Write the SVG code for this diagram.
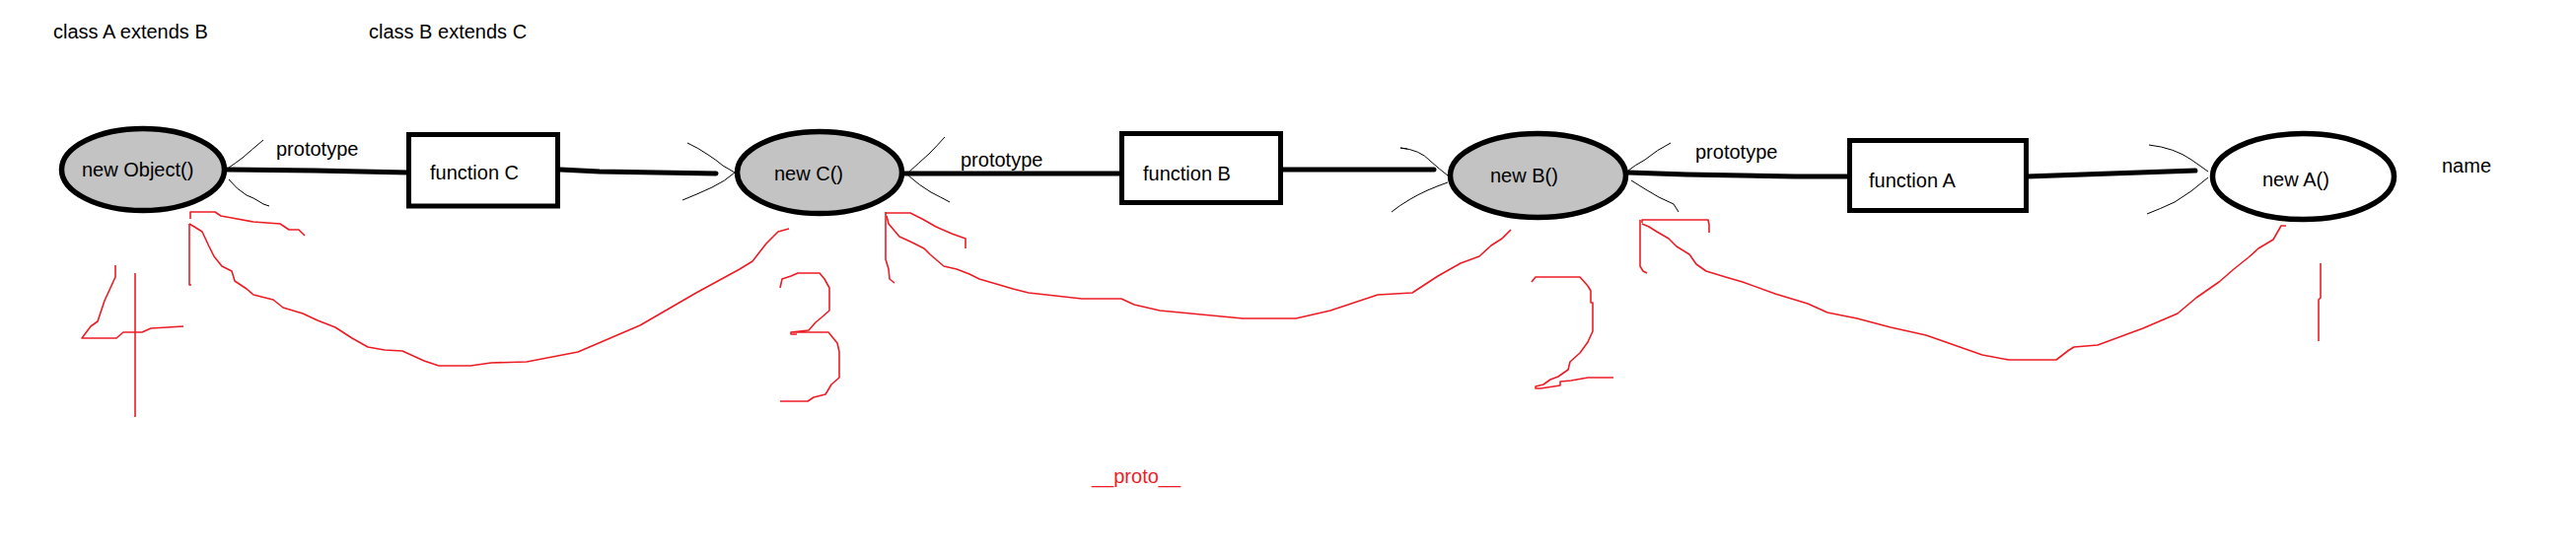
<svg xmlns="http://www.w3.org/2000/svg" width="2612" height="566" viewBox="0 0 2612 566">
<style>
text{font-family:"Liberation Sans",Arial,sans-serif;font-size:20px;fill:#000}
.obj{fill:#c3c3c3;stroke:#000;stroke-width:5.5}
.objw{fill:#fff;stroke:#000;stroke-width:5.5}
.fn{fill:#fff;stroke:#000;stroke-width:5}
.thick{fill:none;stroke:#000;stroke-width:5;stroke-linecap:round;stroke-linejoin:round}
.thin{fill:none;stroke:#000;stroke-width:1}
.red{fill:none;stroke:#ed1c24;stroke-width:1.6;stroke-linejoin:round}
.redt{fill:#ed1c24}
</style>
<rect width="2612" height="566" fill="#fff"/>
<g id="titles">
<text x="54" y="39">class A extends B</text>
<text x="374" y="39">class B extends C</text>
</g>
<g id="connectors">
<path class="thick" d="M230,172 L319,173 L414,175"/>
<path class="thick" d="M568,172 L608,174 L726,176"/>
<path class="thick" d="M917,176 L1136,176"/>
<path class="thick" d="M1301,172 L1454,172"/>
<path class="thick" d="M1651,175 L1710,177 L1820,179 L1875,179"/>
<path class="thick" d="M2055,179 L2226,173"/>
<path class="thin" d="M267,142 Q255,152 246,160 Q238,166 232,170"/>
<path class="thin" d="M232,182 Q240,192 250,198 L257,201 Q264,205 267,207 L273,209"/>
<path class="thin" d="M697,145 Q708,150 718,157 Q726,162 733,168 L745,175 Q735,184 722,190 Q707,197 692,203"/>
<path class="thin" d="M958,139 Q950,148 942,156 Q932,165 921,175"/>
<path class="thin" d="M921,178 Q932,188 944,195 Q954,200 963,205"/>
<path class="thin" d="M1427,151 L1420,150 Q1440,152 1450,163 Q1460,172 1468,178"/>
<path class="thin" d="M1468,185 Q1445,193 1430,202 Q1418,209 1411,215"/>
<path class="thin" d="M1694,145 Q1680,152 1668,162 Q1657,168 1651,173"/>
<path class="thin" d="M1654,183 Q1668,192 1682,200 L1697,207 L1702,215"/>
<path class="thin" d="M2179,147 Q2205,150 2222,162 L2239,174"/>
<path class="thin" d="M2239,180 Q2222,195 2205,205 Q2190,212 2177,217"/>
<text x="280" y="158">prototype</text>
<text x="974" y="169">prototype</text>
<text x="1719" y="161">prototype</text>
</g>
<g id="node-object">
<ellipse class="obj" cx="145" cy="172" rx="82.5" ry="41.5"/>
<text x="83" y="179">new Object()</text>
</g>
<g id="node-function-c">
<rect class="fn" x="414.5" y="136.5" width="151" height="72.5"/>
<text x="436" y="182">function C</text>
</g>
<g id="node-new-c">
<ellipse class="obj" cx="831" cy="175" rx="83.5" ry="41.5"/>
<text x="785" y="183">new C()</text>
</g>
<g id="node-function-b">
<rect class="fn" x="1137.5" y="135.5" width="161" height="70"/>
<text x="1159" y="183">function B</text>
</g>
<g id="node-new-b">
<ellipse class="obj" cx="1559.5" cy="178" rx="89" ry="42.5"/>
<text x="1511" y="185">new B()</text>
</g>
<g id="node-function-a">
<rect class="fn" x="1875.5" y="142.5" width="179" height="71"/>
<text x="1895" y="190">function A</text>
</g>
<g id="node-new-a">
<ellipse class="objw" cx="2335.5" cy="179" rx="92" ry="43.5"/>
<text x="2294" y="189">new A()</text>
</g>
<g id="node-name">
<text x="2476" y="175">name</text>
</g>
<g id="proto-annotations">
<path class="red" d="M800,232 L789,235 L777,247 L763,265 L750,273 L706,297 L649,330 L586,357 L534,367 L498,368 L477,371 L445,371 L430,366 L408,356 L390,355 L373,352 L357,343 L340,332 L322,325 L307,318 L287,312 L277,304 L257,299 L250,293 L238,285 L235,275 L225,270 L217,260 L212,250 L205,235 L197,230 L192,227"/>
<path class="red" d="M194,289 L192,289 L192,227"/>
<path class="red" d="M193,222 L193,215 L218,215 L224,219 L235,221 L257,225 L284,227 L293,233 L303,233 L309,239"/>
<path class="red" d="M117,269 L117,281 L106,305 L99,326 L92,331 L83,343 L118,343 L125,337 L144,337 L153,333 L170,332 L186,331"/>
<path class="red" d="M137,277 L137,423"/>
<path class="red" d="M791,292 L793,283 L802,280 L809,277 L831,277 L836,283 L841,292 L841,315 L833,322 L827,327 L820,335 L802,337 L802,339 L808,339 M803,337 L840,337 L849,348 L851,357 L851,383 L843,390 L837,400 L825,403 L819,407 L791,407"/>
<path class="red" d="M1532,233 L1523,242 L1512,249 L1500,260 L1481,267 L1458,280 L1432,297 L1397,299 L1349,315 L1314,323 L1260,323 L1176,315 L1150,309 L1137,303 L1097,303 L1070,300 L1043,297 L1027,293 L1017,290 L993,283 L983,278 L970,273 L957,270 L943,258 L937,252 L923,245 L912,240 L901,227 L899,219"/>
<path class="red" d="M907,287 L902,283 L901,273 L898,263 L898,215"/>
<path class="red" d="M898,216 L923,216 L935,222 L949,230 L965,237 L979,242 L979,252"/>
<path class="red" d="M1553,286 L1557,281 L1602,281 L1610,290 L1613,295 L1613,307 L1615,307 L1615,336 L1610,347 L1602,358 L1592,367 L1590,375 L1580,382 L1572,385 L1565,390 L1557,392 L1557,394 L1562,394 L1582,391 L1582,387 L1593,386 L1610,383 L1636,383"/>
<path class="red" d="M2318,229 L2313,229 L2305,243 L2290,252 L2280,261 L2265,273 L2257,280 L2250,286 L2227,302 L2208,318 L2173,333 L2127,350 L2103,352 L2098,355 L2085,365 L2037,365 L2010,360 L1990,353 L1973,347 L1953,340 L1917,332 L1883,323 L1853,317 L1833,308 L1800,298 L1767,286 L1753,282 L1730,275 L1720,268 L1713,258 L1700,250 L1692,242 L1680,235 L1672,230 L1665,227"/>
<path class="red" d="M1670,277 L1666,275 L1663,270 L1663,223"/>
<path class="red" d="M1665,226 L1665,223 L1732,223 L1733,228 L1733,236"/>
<path class="red" d="M2353,267 L2353,302 L2351,304 L2351,346"/>
<text class="redt" x="1107" y="490">__proto__</text>
</g>
</svg>
